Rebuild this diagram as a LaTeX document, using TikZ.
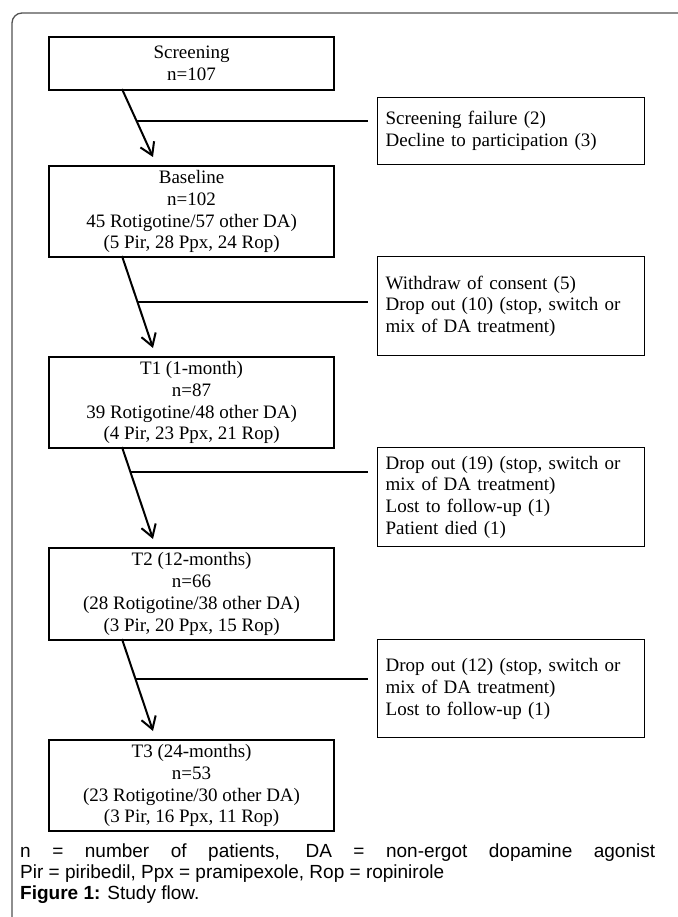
\documentclass[tikz,border=0pt]{standalone}
\usepackage{fontspec}
\setmainfont{Liberation Serif}
\newfontfamily\capfont{Liberation Sans}
\usetikzlibrary{arrows.meta,calc}
\begin{document}
\begin{tikzpicture}[x=1pt,y=-1pt,
  stage/.style={draw, line width=2.2pt, minimum width=285pt, inner sep=0pt, align=center,
    font=\fontsize{19}{21.8}\selectfont, anchor=north west},
  excl/.style={draw, line width=1.3pt, text width=251pt, inner xsep=8pt, inner ysep=0pt,
    align=left, font=\fontsize{19}{21.8}\selectfont, anchor=north west},
  flow/.style={line width=2pt, -{Straight Barb[length=12pt,width=15pt]}},
  side/.style={line width=2.6pt},
  captxt/.style={anchor=base west, inner sep=0pt, font=\capfont\fontsize{19}{21}\selectfont}
]
\useasboundingbox (0,0) rectangle (677,917);
\fill[white] (0,0) rectangle (677,917);
\draw[black!68, line width=1.3pt, rounded corners=10pt] (12,940) -- (12,13) -- (700,13);

% stage boxes
\node[stage, minimum height=53pt] (scr) at (48,36) {Screening\\n=107};
\node[stage, minimum height=91pt] (base) at (48,165) {Baseline\\n=102\\45 Rotigotine/57 other DA)\\(5 Pir, 28 Ppx, 24 Rop)};
\node[stage, minimum height=91pt] (t1) at (48,356) {T1 (1-month)\\n=87\\39 Rotigotine/48 other DA)\\(4 Pir, 23 Ppx, 21 Rop)};
\node[stage, minimum height=92pt] (t2) at (48,547) {T2 (12-months)\\n=66\\(28 Rotigotine/38 other DA)\\(3 Pir, 20 Ppx, 15 Rop)};
\node[stage, minimum height=91pt] (t3) at (48,739) {T3 (24-months)\\n=53\\(23 Rotigotine/30 other DA)\\(3 Pir, 16 Ppx, 11 Rop)};

% exclusion boxes
\node[excl, minimum height=67pt] (sf) at (377,97) {Screening failure (2)\\Decline to participation (3)};
\node[excl, minimum height=99pt] (wd) at (377,256) {Withdraw of consent (5)\\Drop out (10) (stop, switch or\\mix of DA treatment)};
\node[excl, minimum height=99pt] (d19) at (377,447) {Drop out (19) (stop, switch or\\mix of DA treatment)\\Lost to follow-up (1)\\Patient died (1)};
\node[excl, minimum height=98pt] (d12) at (377,639) {Drop out (12) (stop, switch or\\mix of DA treatment)\\Lost to follow-up (1)};

% arrows
\coordinate (a1s) at (122,89);  \coordinate (a1e) at (153,157);
\coordinate (a2s) at (122,256); \coordinate (a2e) at (153,348);
\coordinate (a3s) at (122,447); \coordinate (a3e) at (153,539);
\coordinate (a4s) at (122,639); \coordinate (a4e) at (153,731);
\draw[flow] (a1s) -- (a1e);
\draw[flow] (a2s) -- (a2e);
\draw[flow] (a3s) -- (a3e);
\draw[flow] (a4s) -- (a4e);

% side lines
\coordinate (m1) at ($(a1s)!0.47!(a1e)$);
\coordinate (m2) at ($(a2s)!0.50!(a2e)$);
\coordinate (m3) at ($(a3s)!0.27!(a3e)$);
\coordinate (m4) at ($(a4s)!0.435!(a4e)$);
\coordinate (g1) at ([xshift=-9pt]sf.west);
\coordinate (g2) at ([xshift=-9pt]wd.west);
\coordinate (g3) at ([xshift=-9pt]d19.west);
\coordinate (g4) at ([xshift=-9pt]d12.west);
\draw[side] (m1) -- (g1 |- m1);
\draw[side] (m2) -- (g2 |- m2);
\draw[side] (m3) -- (g3 |- m3);
\draw[side] (m4) -- (g4 |- m4);

% caption
\node[captxt] (c1) at (20,857) {\makebox[635pt][s]{n = number of patients, DA = non-ergot dopamine agonist}};
\node[captxt] (c2) at (20,878) {Pir = piribedil, Ppx = pramipexole, Rop = ropinirole};
\node[captxt] (c3) at (20,899) {\textbf{Figure 1:} Study flow.};
\end{tikzpicture}
\end{document}
